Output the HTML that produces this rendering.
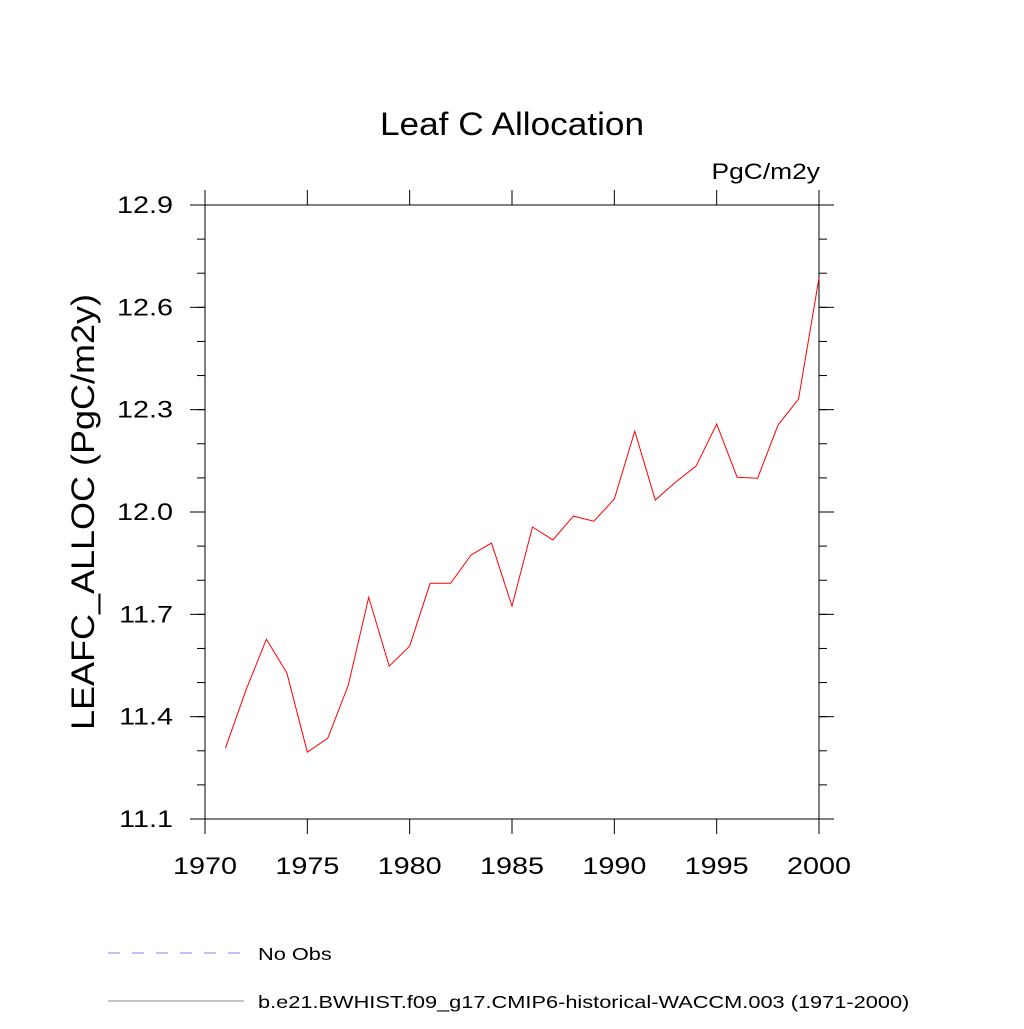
<!DOCTYPE html>
<html><head><meta charset="utf-8"><style>
body{margin:0;background:#fff}
svg{font-family:"Liberation Sans",sans-serif}
</style></head><body>
<svg width="1024" height="1024" viewBox="0 0 1024 1024">
<text transform="translate(512,135) scale(1.1,1)" font-size="32" text-anchor="middle">Leaf C Allocation</text>
<text transform="translate(820,179) scale(1.2,1)" font-size="22" text-anchor="end">PgC/m2y</text>
<text transform="translate(94,512) rotate(-90) scale(1.125,1)" font-size="32" text-anchor="middle">LEAFC_ALLOC  (PgC/m2y)</text>
<g id="axes"></g>
<polyline id="series" fill="none" stroke="#ff0000" stroke-width="1"/>
<g>
<line x1="108" y1="953" x2="244" y2="953" stroke="#8080ff" stroke-dasharray="12,12"/>
<text transform="translate(258,960) scale(1.21,1)" font-size="18">No Obs</text>
<line x1="108" y1="1001" x2="244" y2="1001" stroke="#888"/>
<text transform="translate(258,1008) scale(1.21,1)" font-size="18">b.e21.BWHIST.f09_g17.CMIP6-historical-WACCM.003 (1971-2000)</text>
</g>
</svg>
<script>
const years=[1971,1972,1973,1974,1975,1976,1977,1978,1979,1980,1981,1982,1983,1984,1985,1986,1987,1988,1989,1990,1991,1992,1993,1994,1995,1996,1997,1998,1999,2000];
const values=[11.308,11.478,11.627,11.528,11.296,11.337,11.492,11.750,11.548,11.607,11.791,11.791,11.874,11.909,11.724,11.956,11.918,11.988,11.973,12.038,12.237,12.035,12.088,12.135,12.258,12.102,12.099,12.255,12.331,12.686];
const xTicks=[1970,1975,1980,1985,1990,1995,2000];
const yTicks=[11.1,11.4,11.7,12.0,12.3,12.6,12.9];
const L=205,R=819,T=205,B=819;
const xs=v=>L+(v-1970)/30*(R-L);
const ys=v=>B-(v-11.1)/1.8*(B-T);
const NS="http://www.w3.org/2000/svg";
const ax=document.getElementById('axes');
function ln(x1,y1,x2,y2,name){const e=document.createElementNS(NS,'line');
e.setAttribute('x1',x1);e.setAttribute('y1',y1);e.setAttribute('x2',x2);e.setAttribute('y2',y2);
e.setAttribute('stroke','#000');e.setAttribute('stroke-width','1');


ax.appendChild(e);}
function tx(x,y,s,anchor,name){const e=document.createElementNS(NS,'text');
e.setAttribute('transform','translate('+x+','+y+') scale(1.2,1)');e.setAttribute('font-size','24');e.setAttribute('text-anchor',anchor);e.textContent=s;


ax.appendChild(e);}
ln(L,T,R,T,'plot-frame-top');ln(L,B,R,B,'plot-frame-bottom');ln(L,T,L,B,'plot-frame-left');ln(R,T,R,B,'plot-frame-right');
xTicks.forEach(v=>{const x=xs(v);ln(x,B,x,B+15,'x-tick');ln(x,T,x,T-15,'x-tick-top');tx(x,874,String(v),'middle','x-tick-label');});
yTicks.forEach(v=>{const y=ys(v);ln(L-15,y,L,y,'y-tick');ln(R,y,R+15,y,'y-tick-right');tx(L-32,y+8,v.toFixed(1),'end','y-tick-label');});
for(let v=11.2;v<12.9;v+=0.1){const y=ys(v);ln(L-8,y,L,y,'y-minor-tick');ln(R,y,R+8,y,'y-minor-tick-right');}
document.getElementById('series').setAttribute('points',years.map((y,i)=>xs(y)+','+ys(values[i])).join(' '));
</script>
</body></html>
